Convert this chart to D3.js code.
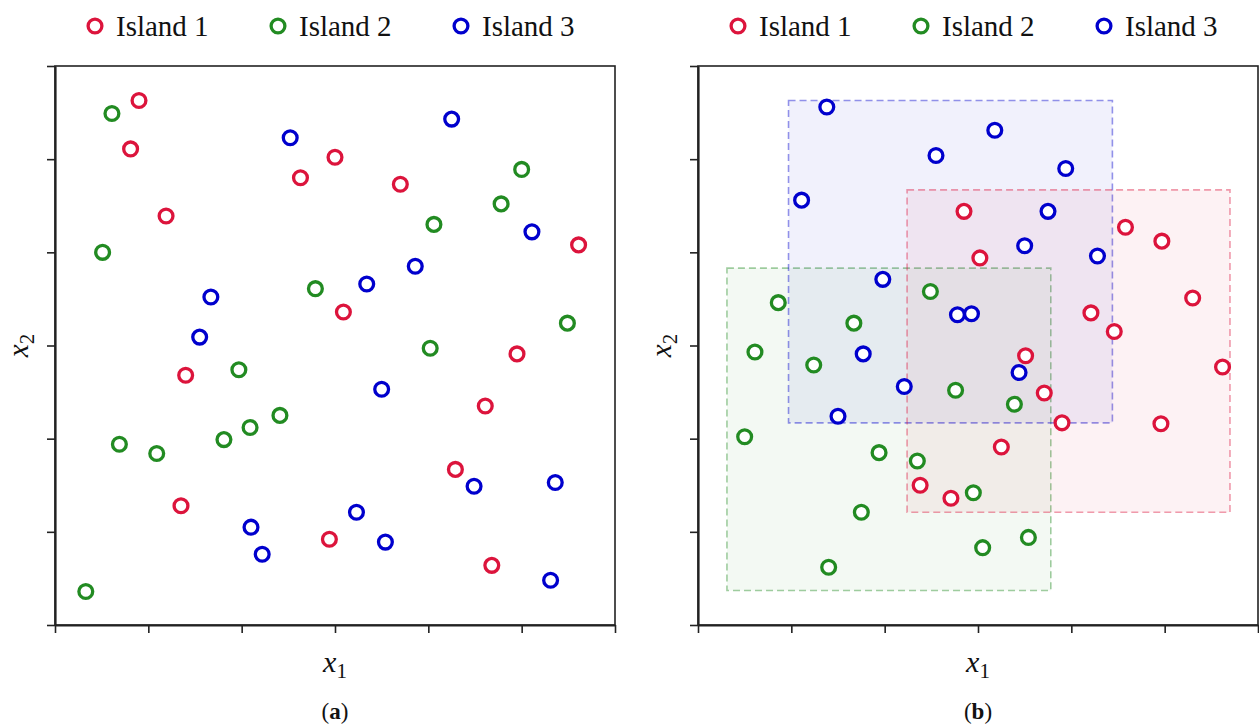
<!DOCTYPE html>
<html>
<head>
<meta charset="utf-8">
<script src="https://cdn.jsdelivr.net/npm/d3@7"></script>
<style>
  body { margin: 0; background: #fff; }
  svg { display: block; }
</style>
</head>
<body>
<svg id="chart" width="1259" height="724"></svg>
<script>
// Series names and colours
const islands = ["Island 1", "Island 2", "Island 3"];
const islandColors = ["#dc143c", "#228b22", "#0000cd"];
const tickValues = [0, 1, 2, 3, 4, 5, 6];
const panelCaptions = ["a", "b"];

// Panel (a): scattered individuals, [x1, x2]
const a_island1 = [[0.90,5.63],[0.81,5.11],[1.19,4.39],[2.63,4.80],[3.00,5.02],[3.70,4.73],[5.61,4.08],[3.09,3.36],[1.40,2.68],[4.95,2.91],[4.61,2.35],[4.29,1.67],[1.35,1.28],[2.94,0.92],[4.68,0.64]];
const a_island2 = [[0.61,5.49],[0.51,4.00],[2.79,3.61],[4.06,4.30],[4.78,4.52],[5.00,4.89],[5.49,3.24],[4.02,2.97],[1.97,2.74],[2.41,2.25],[2.09,2.12],[1.81,1.99],[0.69,1.94],[1.09,1.84],[0.33,0.36]];
const a_island3 = [[2.52,5.23],[4.25,5.43],[5.11,4.22],[3.86,3.85],[3.34,3.66],[1.67,3.52],[1.55,3.09],[3.50,2.53],[4.49,1.49],[5.36,1.53],[3.23,1.21],[2.10,1.05],[2.22,0.76],[3.54,0.89],[5.31,0.48]];

// Panel (b): individuals grouped into islands, [x1, x2]
const b_island1 = [[2.85,4.44],[4.58,4.27],[4.97,4.12],[3.02,3.94],[5.30,3.51],[4.21,3.35],[4.46,3.15],[3.51,2.89],[5.62,2.77],[3.71,2.49],[3.90,2.17],[4.96,2.16],[3.25,1.91],[2.38,1.50],[2.71,1.36]];
const b_island2 = [[0.86,3.46],[2.49,3.58],[1.67,3.24],[0.61,2.93],[1.24,2.79],[2.76,2.52],[3.39,2.37],[0.50,2.02],[1.94,1.85],[2.35,1.76],[2.95,1.42],[1.75,1.21],[3.54,0.94],[3.05,0.83],[1.40,0.62]];
const b_island3 = [[1.38,5.56],[3.18,5.31],[2.55,5.04],[3.94,4.90],[1.11,4.56],[3.75,4.44],[3.50,4.07],[4.28,3.96],[1.98,3.71],[2.78,3.33],[2.93,3.34],[1.77,2.91],[2.21,2.56],[3.44,2.71],[1.50,2.24]];

// Island regions in panel (b): [x1 min, x1 max, x2 min, x2 max]
const regionIsland1 = [2.24, 5.70, 1.21, 4.67];
const regionIsland2 = [0.31, 3.78, 0.37, 3.83];
const regionIsland3 = [0.97, 4.44, 2.17, 5.63];

const svg = d3.select("#chart");
const serif = "'Liberation Serif', 'DejaVu Serif', serif";

const panels = [
  { left: 55,  series: [a_island1, a_island2, a_island3], regions: null },
  { left: 698, series: [b_island1, b_island2, b_island3], regions: [regionIsland1, regionIsland2, regionIsland3] }
];
const plotTop = 66, plotBottom = 625, plotWidth = 560;

panels.forEach((p, pi) => {
  const x = d3.scaleLinear().domain([0, 6]).range([p.left, p.left + plotWidth]);
  const y = d3.scaleLinear().domain([0, 6]).range([plotBottom, plotTop]);
  const g = svg.append("g");
  const cx = p.left + plotWidth / 2;

  // island regions
  if (p.regions) {
    const order = [1, 2, 0];
    order.forEach(i => {
      const r = p.regions[i];
      g.append("rect")
        .attr("x", x(r[0])).attr("y", y(r[3]))
        .attr("width", x(r[1]) - x(r[0]))
        .attr("height", y(r[2]) - y(r[3]))
        .attr("fill", islandColors[i]).attr("fill-opacity", 0.055)
        .attr("stroke", islandColors[i]).attr("stroke-opacity", 0.42)
        .attr("stroke-width", 1.6)
        .attr("stroke-dasharray", "7,4");
    });
  }

  // frame
  g.append("rect")
    .attr("x", p.left).attr("y", plotTop)
    .attr("width", plotWidth).attr("height", plotBottom - plotTop)
    .attr("fill", "none").attr("stroke", "#222").attr("stroke-width", 1.6);

  // axes (ticks only, no labels)
  const xAxis = d3.axisBottom(x).tickValues(tickValues).tickFormat("").tickSize(8).tickSizeOuter(0);
  const yAxis = d3.axisLeft(y).tickValues(tickValues).tickFormat("").tickSize(8).tickSizeOuter(0);
  const gx = g.append("g").attr("transform", `translate(0,${plotBottom})`).call(xAxis);
  const gy = g.append("g").attr("transform", `translate(${p.left},0)`).call(yAxis);
  [gx, gy].forEach(a => {
    a.select(".domain").attr("stroke", "#222").attr("stroke-width", 2.2);
    a.selectAll(".tick line").attr("stroke", "#222").attr("stroke-width", 1.6);
  });

  // points
  p.series.forEach((pts, i) => {
    g.append("g").selectAll("circle").data(pts).join("circle")
      .attr("cx", d => x(d[0])).attr("cy", d => y(d[1]))
      .attr("r", 6.9)
      .attr("fill", "#fff")
      .attr("stroke", islandColors[i]).attr("stroke-width", 3.3);
  });

  // legend
  const legend = g.append("g");
  islands.forEach((name, i) => {
    const lx = cx - 240 + i * 183;
    legend.append("circle")
      .attr("cx", lx).attr("cy", 26).attr("r", 6.9)
      .attr("fill", "#fff").attr("stroke", islandColors[i]).attr("stroke-width", 3.3);
    legend.append("text")
      .attr("x", lx + 21).attr("y", 36)
      .attr("font-family", serif).attr("font-size", 29)
      .attr("fill", "#111")
      .text(name);
  });

  // axis titles
  const xl = g.append("text")
    .attr("x", cx).attr("y", 672)
    .attr("text-anchor", "middle")
    .attr("font-family", serif).attr("font-size", 30).attr("fill", "#111");
  xl.append("tspan").attr("font-style", "italic").text("x");
  xl.append("tspan").attr("font-size", 21).attr("dy", 6).text("1");

  const yl = g.append("text")
    .attr("transform", `translate(${p.left - 27},${(plotTop + plotBottom) / 2}) rotate(-90)`)
    .attr("text-anchor", "middle")
    .attr("font-family", serif).attr("font-size", 29).attr("fill", "#111");
  yl.append("tspan").attr("font-style", "italic").text("x");
  yl.append("tspan").attr("font-size", 21).attr("dy", 6).text("2");

  // caption
  const cap = g.append("text")
    .attr("x", cx).attr("y", 719)
    .attr("text-anchor", "middle")
    .attr("font-family", serif).attr("font-size", 23).attr("fill", "#111");
  cap.append("tspan").text("(");
  cap.append("tspan").attr("font-weight", "bold").text(panelCaptions[pi]);
  cap.append("tspan").text(")");
});
</script>
</body>
</html>
